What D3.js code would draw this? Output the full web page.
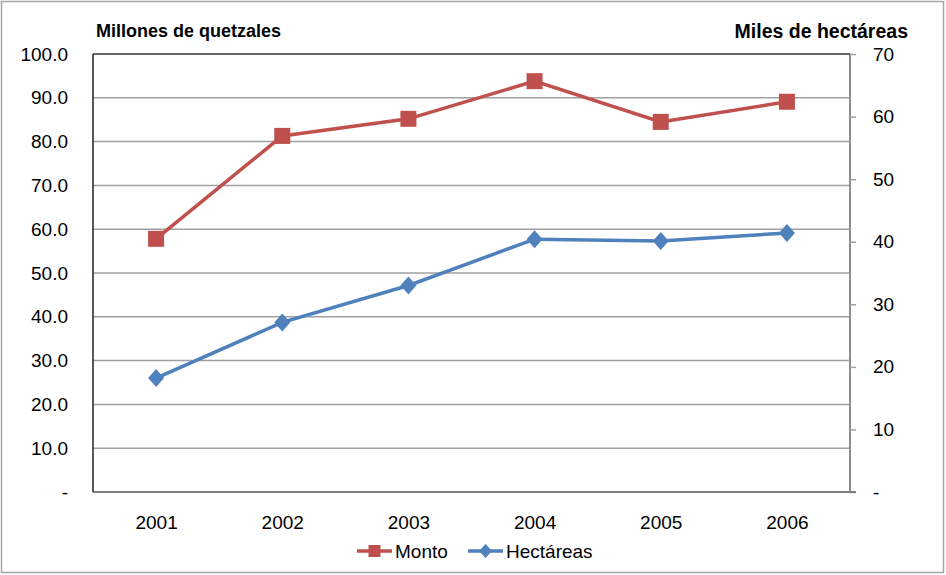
<!DOCTYPE html>
<html><head><meta charset="utf-8">
<script src="https://cdn.jsdelivr.net/npm/d3@7"></script>
<style>body{margin:0;background:#fff}svg{display:block;font-family:"Liberation Sans",Arial,sans-serif}</style>
</head><body><svg id="c" width="946" height="575"></svg>
<script>
const years = ["2001","2002","2003","2004","2005","2006"];
const monto = [57.8, 81.3, 85.2, 93.8, 84.5, 89.1];
const hectareas = [18.2, 27.1, 33.0, 40.4, 40.1, 41.4];
const leftTicks = [0,10,20,30,40,50,60,70,80,90,100];
const rightTicks = [0,10,20,30,40,50,60,70];
const seriesNames = ["Monto","Hectáreas"];
const leftTitle = "Millones de quetzales";
const rightTitle = "Miles de hectáreas";

const svg = d3.select("#c");
const L=93, R=850, T=54, B=492;
const red="#C0504D", blue="#4F81BD";

svg.append("rect").attr("x",1.5).attr("y",1.5).attr("width",942).attr("height",571)
  .attr("fill","#fff").attr("stroke","#a6a6a6").attr("stroke-width",1.5);

const x = d3.scalePoint().domain(years).range([L,R]).padding(0.5);
const yL = d3.scaleLinear().domain([0,100]).range([B,T]);
const yR = d3.scaleLinear().domain([0,70]).range([B,T]);

// gridlines
svg.append("g").selectAll("line").data(leftTicks.filter(d=>d>0&&d<100)).join("line")
  .attr("x1",L).attr("x2",R).attr("y1",d=>yL(d)).attr("y2",d=>yL(d))
  .attr("stroke","#a0a0a0").attr("stroke-width",1.5);

// left axis
const fmtL = d=> d===0 ? "-" : d3.format(".1f")(d);
const gL = svg.append("g").attr("transform",`translate(${L},0)`)
  .call(d3.axisLeft(yL).tickValues(leftTicks).tickFormat(fmtL).tickSize(0).tickPadding(25));
gL.select(".domain").remove();
gL.selectAll("text").attr("font-size",19).attr("fill","#000").attr("font-family","Liberation Sans, Arial, sans-serif");

// right axis
const fmtR = d=> d===0 ? "-" : String(d);
const gR = svg.append("g").attr("transform",`translate(${R},0)`)
  .call(d3.axisRight(yR).tickValues(rightTicks).tickFormat(fmtR).tickSize(6).tickPadding(17));
gR.select(".domain").attr("stroke","#8c8c8c").attr("stroke-width",2).attr("d",`M0,${T}V${B}`);
gR.selectAll(".tick line").attr("stroke","#a0a0a0").attr("stroke-width",1.5);
gR.selectAll("text").attr("font-size",19).attr("fill","#000").attr("font-family","Liberation Sans, Arial, sans-serif");

// bottom axis
const gB = svg.append("g").attr("transform",`translate(0,${B})`)
  .call(d3.axisBottom(x).tickSize(0).tickPadding(24));
gB.select(".domain").attr("stroke","#7f7f7f").attr("stroke-width",2).attr("d",`M${L},0H${R+6}`);
gB.selectAll("text").attr("font-size",19).attr("fill","#000").attr("font-family","Liberation Sans, Arial, sans-serif");

// top border and left axis line
svg.append("line").attr("x1",L).attr("x2",R).attr("y1",T).attr("y2",T).attr("stroke","#333").attr("stroke-width",1.5);
svg.append("line").attr("x1",L).attr("x2",L).attr("y1",T).attr("y2",B).attr("stroke","#222").attr("stroke-width",1.5);

// titles
svg.append("text").attr("x",96).attr("y",37).attr("font-size",18).attr("font-weight","bold").text(leftTitle);
svg.append("text").attr("x",908).attr("y",38).attr("text-anchor","end").attr("font-size",19.5).attr("font-weight","bold").text(rightTitle);

// lines
const lineM = d3.line().x((d,i)=>x(years[i])).y(d=>yL(d));
const lineH = d3.line().x((d,i)=>x(years[i])).y(d=>yR(d));
svg.append("path").datum(monto).attr("d",lineM).attr("fill","none").attr("stroke",red).attr("stroke-width",3.5);
svg.append("path").datum(hectareas).attr("d",lineH).attr("fill","none").attr("stroke",blue).attr("stroke-width",3.5);

const sq = 16;
svg.append("g").selectAll("rect").data(monto).join("rect")
  .attr("x",(d,i)=>x(years[i])-sq/2).attr("y",d=>yL(d)-sq/2).attr("width",sq).attr("height",sq).attr("fill",red);
const diamond = (cx,cy,w,h)=>`M${cx},${cy-h}L${cx+w},${cy}L${cx},${cy+h}L${cx-w},${cy}Z`;
svg.append("g").selectAll("path").data(hectareas).join("path")
  .attr("d",(d,i)=>diamond(x(years[i]),yR(d),8,9)).attr("fill",blue);

// legend
const lg = svg.append("g");
lg.append("line").attr("x1",357).attr("x2",392).attr("y1",551).attr("y2",551).attr("stroke",red).attr("stroke-width",3.5);
lg.append("rect").attr("x",374.5-6).attr("y",551-6).attr("width",12).attr("height",12).attr("fill",red);
lg.append("text").attr("x",395).attr("y",558).attr("font-size",19).text(seriesNames[0]);
lg.append("line").attr("x1",468).attr("x2",503).attr("y1",551).attr("y2",551).attr("stroke",blue).attr("stroke-width",3.5);
lg.append("path").attr("d",diamond(485.5,551,6.5,7)).attr("fill",blue);
lg.append("text").attr("x",506).attr("y",558).attr("font-size",19).text(seriesNames[1]);
</script></body></html>
